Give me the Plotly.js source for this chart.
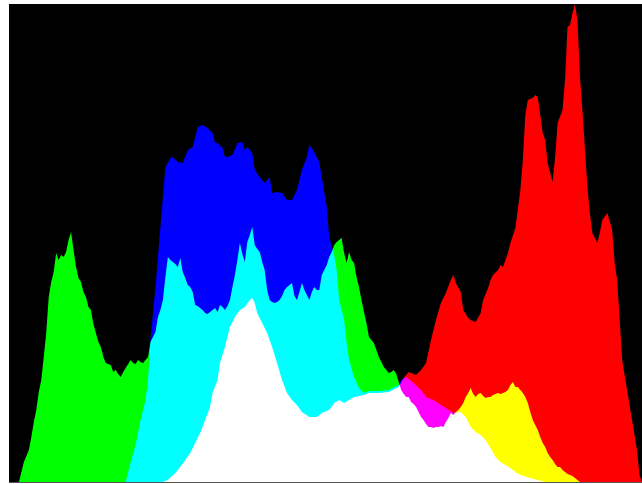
<!DOCTYPE html>
<html>
<head>
<meta charset="utf-8">
<script src="https://cdn.plot.ly/plotly-3.0.1.min.js"></script>
<style>
  html, body { margin: 0; padding: 0; background: #fff; }
  #chart { width: 642px; height: 484px; }
  #chart .js-fill { mix-blend-mode: screen; }
</style>
</head>
<body>
<div id="chart"></div>
<script>
// Intensity bins (0-255) and pixel counts per channel (arbitrary units)
var greenBins = [4,5,6,7,8,9,10,11,12,13,14,15,16,17,18,19,20,21,22,23,24,25,26,27,28,29,30,31,32,33,34,35,36,37,38,39,40,41,42,43,44,45,46,47,48,49,50,51,52,53,54,55,56,57,58,59,60,61,62,63,64,65,66,67,68,69,70,71,72,73,74,75,76,77,78,79,80,81,82,83,84,85,86,87,88,89,90,91,92,93,94,95,96,97,98,99,100,101,102,103,104,105,106,107,108,109,110,111,112,113,114,115,116,117,118,119,120,121,122,123,124,125,126,127,128,129,130,131,132,133,134,135,136,137,138,139,140,141,142,143,144,145,146,147,148,149,150,151,152,153,154,155,156,157,158,159,160,161,162,163,164,165,166,167,168,169,170,171,172,173,174,175,176,177,178,179,180,181,182,183,184,185,186,187,188,189,190,191,192,193,194,195,196,197,198,199,200,201,202,203,204,205,206,207,208,209,210,211,212,213,214,215,216,217,218,219,220,221,222,223,224,225,226,227,228,229,230];
var greenCounts = [0,10,20,26,32,45,60,72,90,102,125,149,185,200,210,229,222,227,225,230,242,250,232,215,204,200,190,185,175,172,158,149,140,135,125,119,118,117,110,112,108,105,110,114,118,122,119,118,122,120,119,122,125,140,145,150,165,172,182,205,225,222,220,218,215,224,210,204,197,195,190,177,176,174,172,169,168,170,172,174,170,177,175,172,176,182,195,207,222,239,228,220,240,247,255,237,233,230,220,212,192,182,180,179,180,182,186,192,195,197,199,186,182,190,199,192,187,182,190,195,192,192,207,212,217,225,230,237,240,242,244,229,219,230,222,219,205,195,182,170,159,145,142,139,132,125,120,115,112,109,110,112,108,100,92,88,85,85,80,78,75,70,65,62,58,55,55,54,55,55,56,55,60,64,69,67,70,72,75,79,85,89,94,88,85,88,89,86,84,85,85,87,88,89,88,89,90,92,97,100,95,95,92,89,85,79,70,62,57,52,45,39,35,29,25,22,18,15,15,12,10,8,7,6,4,2,0];

var blueBins = [47,49,51,53,55,56,57,59,61,63,65,66,68,70,72,74,75,76,78,80,82,83,84,86,87,88,90,92,94,95,96,98,99,101,103,105,106,108,110,112,114,116,118,120,121,122,124,125,126,128,129,131,132,133,135,136,137,139,141,143,145,149,153,157,158,160,163,166,168,171,174,176,179,182,184,186,188,190,192,194,196,198,200,202,204,206,210,216];
var blueCounts = [0,20,37,62,82,102,142,195,255,315,324,325,320,319,332,335,345,355,357,354,349,339,339,334,325,325,327,339,340,332,335,329,312,305,299,305,289,290,289,282,282,292,312,325,337,334,325,320,305,275,245,227,212,182,162,139,122,105,94,89,91,91,92,97,102,105,99,92,85,82,77,74,69,70,65,55,50,47,42,34,25,20,17,14,10,7,4,0];

var redBins = [62,64,67,69,71,73,75,77,79,81,82,84,85,87,89,91,93,95,97,98,99,100,102,104,106,108,110,112,114,116,118,121,124,126,129,131,133,135,139,143,145,149,153,157,159,161,164,166,168,170,172,174,176,178,179,180,182,183,185,186,188,190,191,193,194,195,197,198,199,201,202,204,206,207,208,209,211,212,213,215,216,217,218,219,220,221,223,224,225,226,227,228,229,230,231,233,234,235,237,238,239,241,243,244,245,246,247,249,251,253,254,255];
var redCounts = [0,2,9,15,22,29,39,49,62,75,89,102,119,135,155,165,172,175,182,184,179,169,159,149,135,119,102,89,82,77,70,65,65,69,72,79,82,79,85,87,89,89,90,95,104,110,107,112,119,142,162,179,189,202,207,199,190,172,164,162,160,169,182,194,202,207,212,217,215,229,239,254,292,322,367,382,384,387,385,349,342,319,309,300,325,359,372,402,455,457,469,478,462,405,372,295,269,249,239,249,262,269,252,219,202,162,122,92,62,32,7,0];

var channels = [
  {name: 'Red', bins: redBins, counts: redCounts, color: '#ff0000'},
  {name: 'Green', bins: greenBins, counts: greenCounts, color: '#00ff00'},
  {name: 'Blue', bins: blueBins, counts: blueCounts, color: '#0000ff'}
];

var traces = channels.map(function (c) {
  return {
    type: 'scatter',
    x: c.bins,
    y: c.counts,
    name: c.name,
    mode: 'none',
    fill: 'tozeroy',
    fillcolor: c.color,
    hoverinfo: 'skip'
  };
});

var layout = {
  width: 642,
  height: 484,
  margin: {l: 9, r: 0, t: 4, b: 2, pad: 0},
  paper_bgcolor: '#ffffff',
  plot_bgcolor: '#000000',
  showlegend: false,
  xaxis: {
    range: [0, 255],
    showgrid: false, zeroline: false, showticklabels: false, ticks: '',
    showline: true, linecolor: '#555555', linewidth: 1
  },
  yaxis: {
    range: [0, 478],
    showgrid: false, zeroline: false, showticklabels: false, ticks: '',
    showline: false
  }
};

Plotly.newPlot('chart', traces, layout, {displayModeBar: false, staticPlot: true});
</script>
</body>
</html>
